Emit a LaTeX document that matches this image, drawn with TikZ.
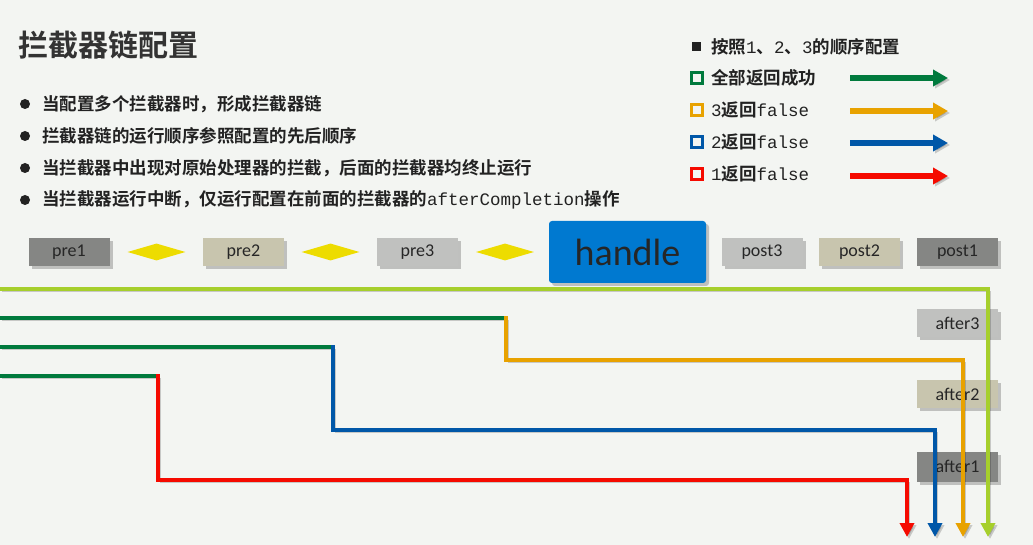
\documentclass[tikz,border=0pt]{standalone}
\usepackage{fontspec}
\setmainfont{Liberation Sans}
\newfontfamily\cjk{Noto Sans CJK SC}[BoldFont={Noto Sans CJK SC Bold}]
\newfontfamily\mono{Liberation Mono}
\newfontfamily\calfont{Carlito}
\usetikzlibrary{arrows.meta,shadows,shapes.geometric}
\definecolor{bgcol}{HTML}{F3F5F2}
\definecolor{txt}{HTML}{222222}
\definecolor{ttl}{HTML}{333333}
\definecolor{dgreen}{HTML}{007A3D}
\definecolor{lgreen}{HTML}{A6CF2C}
\definecolor{orng}{HTML}{E8A200}
\definecolor{blu}{HTML}{0057A8}
\definecolor{rd}{HTML}{F50A00}
\definecolor{yel}{HTML}{EDDC00}
\definecolor{hblue}{HTML}{0079D0}
\definecolor{cgray}{HTML}{858684}
\definecolor{cbeige}{HTML}{C8C5AE}
\definecolor{clight}{HTML}{C0C1BF}
\tikzset{
  box/.style={minimum width=81pt, minimum height=28pt, inner sep=0pt,
    font=\calfont\fontsize{18}{18}\selectfont, text=black!85,
    drop shadow={shadow xshift=3pt, shadow yshift=-3pt, opacity=0.45}},
  dia/.style={diamond, fill=yel, minimum width=58pt, minimum height=17pt, aspect=3.4, inner sep=0pt},
  ln/.style={line width=4.5pt,
    preaction={draw=black, opacity=0.18, transform canvas={shift={(2pt,-2pt)}}}},
  vtip/.style={-{Triangle[width=14pt,length=14pt]}},
  ltip/.style={-{Triangle[width=16pt,length=15pt]}},
  bul/.style={circle, fill=txt, minimum size=10pt, inner sep=0pt},
  btxt/.style={anchor=west, inner sep=0pt, text=txt, font=\cjk\bfseries\fontsize{17.5}{20}\selectfont},
  lsq/.style={draw=#1, line width=3pt, minimum size=11pt, inner sep=0pt},
}
\begin{document}
\begin{tikzpicture}[x=1pt,y=-1pt]
\fill[bgcol] (0,0) rectangle (1033,545);
\useasboundingbox (0,0) rectangle (1033,545);

% title
\node[anchor=west, inner sep=0pt, text=ttl, font=\cjk\bfseries\fontsize{30}{32}\selectfont] (title) at (18,45) {拦截器链配置};

% bullets
\node[bul] (b1) at (25,104) {};
\node[btxt] (t1) at (42,104) {当配置多个拦截器时，形成拦截器链};
\node[bul] (b2) at (25,136) {};
\node[btxt] (t2) at (42,136) {拦截器链的运行顺序参照配置的先后顺序};
\node[bul] (b3) at (25,168) {};
\node[btxt] (t3) at (42,168) {当拦截器中出现对原始处理器的拦截，后面的拦截器均终止运行};
\node[bul] (b4) at (25,200) {};
\node[btxt] (t4) at (42,200) {当拦截器运行中断，仅运行配置在前面的拦截器的{\mono\mdseries afterCompletion}操作};

% legend
\node[fill=txt, minimum size=9pt, inner sep=0pt] (l0) at (696,47) {};
\node[btxt] (lt0) at (711,47) {按照{\mono\mdseries 1}、{\mono\mdseries 2}、{\mono\mdseries 3}的顺序配置};
\node[lsq=dgreen] (l1) at (697,78) {};
\node[btxt] (lt1) at (711,78) {全部返回成功};
\node[lsq=orng] (l2) at (697,110) {};
\node[btxt] (lt2) at (711,110) {{\mono\mdseries 3}返回{\mono\mdseries false}};
\node[lsq=blu] (l3) at (697,142) {};
\node[btxt] (lt3) at (711,142) {{\mono\mdseries 2}返回{\mono\mdseries false}};
\node[lsq=rd] (l4) at (697,174) {};
\node[btxt] (lt4) at (711,174) {{\mono\mdseries 1}返回{\mono\mdseries false}};
\coordinate (a1s) at (850,78);  \coordinate (a1e) at (948,78);
\coordinate (a2s) at (850,111); \coordinate (a2e) at (948,111);
\coordinate (a3s) at (850,143); \coordinate (a3e) at (948,143);
\coordinate (a4s) at (850,176); \coordinate (a4e) at (948,176);
\draw[ln, line width=5.5pt, dgreen, ltip] (a1s) -- (a1e);
\draw[ln, line width=5.5pt, orng, ltip] (a2s) -- (a2e);
\draw[ln, line width=5.5pt, blu, ltip] (a3s) -- (a3e);
\draw[ln, line width=5.5pt, rd, ltip] (a4s) -- (a4e);

% chain row
\node[box, fill=cgray] (pre1) at (69,252) {pre1};
\node[dia] (d1) at (156.5,252) {};
\node[box, fill=cbeige] (pre2) at (243.5,252) {pre2};
\node[dia] (d2) at (330.5,252) {};
\node[box, fill=clight] (pre3) at (417.5,252) {pre3};
\node[dia] (d3) at (505,252) {};
\node[box, fill=hblue, minimum width=157pt, minimum height=62pt, rounded corners=3pt,
  font=\calfont\fontsize{38}{38}\selectfont] (handle) at (627.5,252) {handle};
\node[box, fill=clight] (post3) at (762,252) {post3};
\node[box, fill=cbeige] (post2) at (859.5,252) {post2};
\node[box, fill=cgray] (post1) at (957.5,252) {post1};

\node[box, fill=clight] (after3) at (957.5,323) {after3};
\node[box, fill=cbeige] (after2) at (957.5,394) {after2};
\node[box, fill=cgray, minimum height=30pt] (after1) at (957.5,466.5) {after1};

% flows
\coordinate (g0) at (0,289);   \coordinate (g1) at (988,289);  \coordinate (ge) at (988,537);
\coordinate (o0) at (0,318);   \coordinate (o1) at (506,318);  \coordinate (o2) at (506,360);
\coordinate (o3) at (963,360); \coordinate (oe) at (963,537);
\coordinate (u0) at (0,347);   \coordinate (u1) at (333,347);  \coordinate (u2) at (333,430);
\coordinate (u3) at (935,430); \coordinate (ue) at (935,537);
\coordinate (r0) at (0,376);   \coordinate (r1) at (158,376);  \coordinate (r2) at (158,480);
\coordinate (r3) at (907,480); \coordinate (re) at (907,537);

\draw[ln, lgreen, vtip] (g0) -- (g1) -- (ge);
\draw[ln, dgreen] (o0) -- (o1);
\draw[ln, dgreen] (u0) -- (u1);
\draw[ln, dgreen] (r0) -- (r1);
\draw[ln, orng, line cap=rect, vtip] (o1) -- (o2) -- (o3) -- (oe);
\draw[ln, blu, line cap=rect, vtip] (u1) -- (u2) -- (u3) -- (ue);
\draw[ln, rd, line cap=rect, vtip] (r1) -- (r2) -- (r3) -- (re);
\end{tikzpicture}
\end{document}
